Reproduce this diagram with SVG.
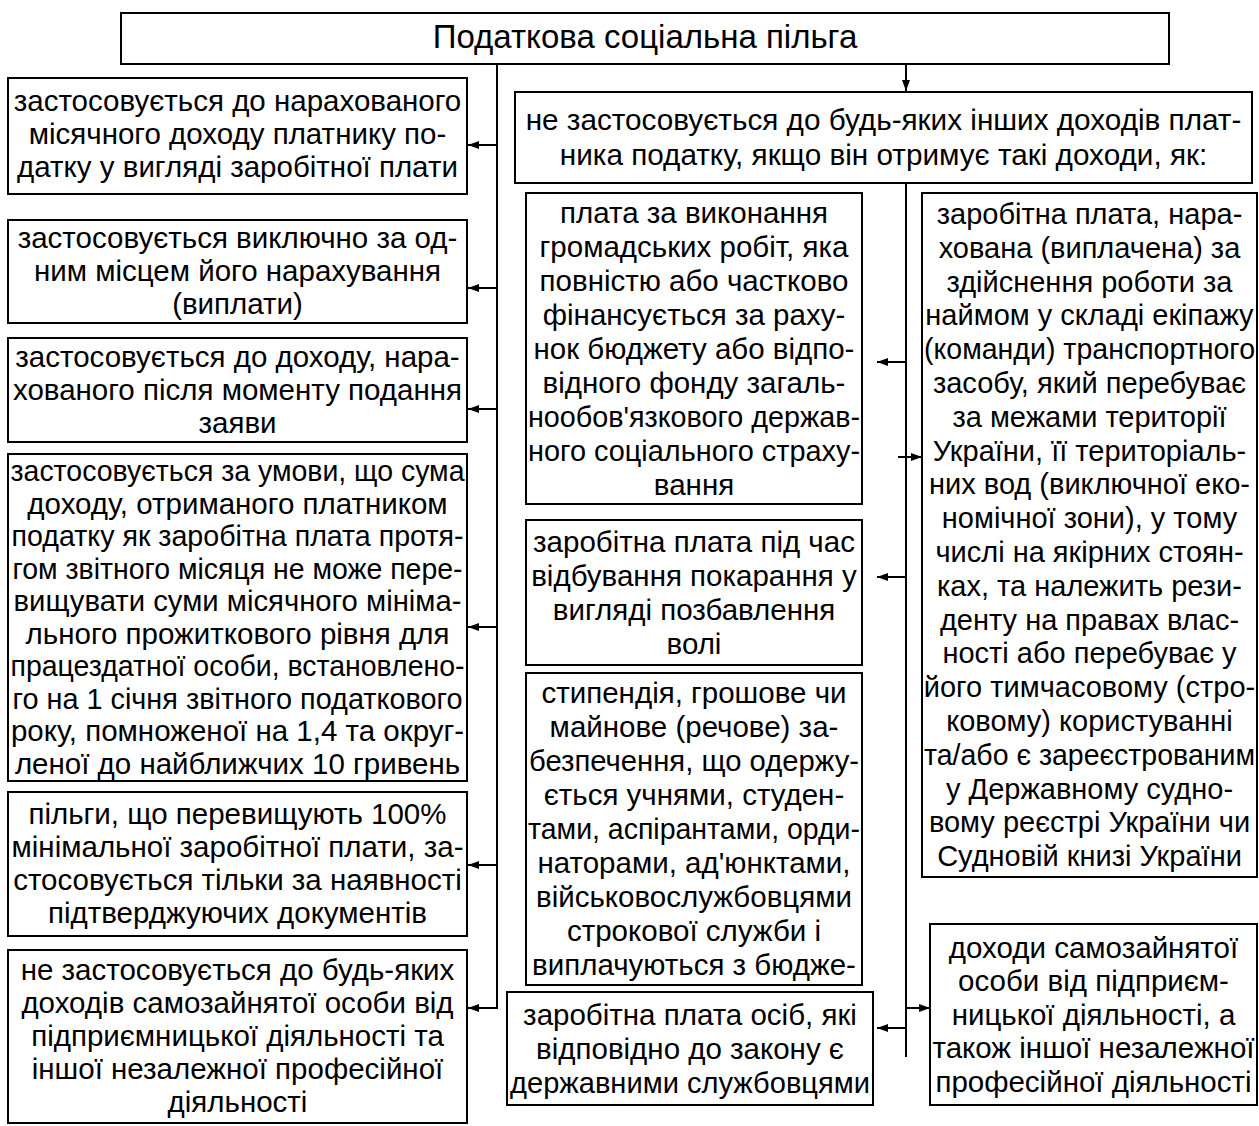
<svg xmlns="http://www.w3.org/2000/svg" width="1259" height="1126" viewBox="0 0 1259 1126">
<style>
.box{fill:#fff;stroke:#000;stroke-width:2}
.t{font-family:"Liberation Sans",Arial,sans-serif;font-size:29.5px;text-anchor:middle;fill:#000}
.s{font-size:29px}
.title{font-size:33px}
.c{stroke:#000;stroke-width:2;fill:none}
</style>
<defs>
<marker id="ah" markerUnits="userSpaceOnUse" markerWidth="12" markerHeight="8" refX="11" refY="4" orient="auto">
<path d="M0,0 L11,4 L0,8 z" fill="#000"/>
</marker>
</defs>
<rect width="1259" height="1126" fill="#fff"/>
<g id="connectors">
<line class="c" x1="497" y1="64" x2="497" y2="1008"/>
<line class="c" x1="497" y1="145" x2="468" y2="145" marker-end="url(#ah)"/>
<line class="c" x1="497" y1="288" x2="468" y2="288" marker-end="url(#ah)"/>
<line class="c" x1="497" y1="409" x2="468" y2="409" marker-end="url(#ah)"/>
<line class="c" x1="497" y1="627" x2="468" y2="627" marker-end="url(#ah)"/>
<line class="c" x1="497" y1="865" x2="468" y2="865" marker-end="url(#ah)"/>
<line class="c" x1="498" y1="1008" x2="468" y2="1008" marker-end="url(#ah)"/>
<line class="c" x1="906" y1="64" x2="906" y2="91" marker-end="url(#ah)"/>
<line class="c" x1="906" y1="183" x2="906" y2="1057"/>
<line class="c" x1="906" y1="362" x2="877" y2="362" marker-end="url(#ah)"/>
<line class="c" x1="906" y1="577" x2="877" y2="577" marker-end="url(#ah)"/>
<line class="c" x1="906" y1="1028" x2="877" y2="1028" marker-end="url(#ah)"/>
<line class="c" x1="898" y1="457" x2="922" y2="457" marker-end="url(#ah)"/>
<line class="c" x1="906" y1="1008" x2="930" y2="1008" marker-end="url(#ah)"/>
</g>
<g id="n-top">
<rect class="box" x="121" y="13" width="1048" height="51"/>
<text class="t title" x="645" y="48">Податкова соціальна пільга</text>
</g>
<g id="n-l1">
<rect class="box" x="8" y="78" width="459" height="116"/>
<text class="t" x="237.5" y="111">застосовується до нарахованого</text>
<text class="t" x="237.5" y="144">місячного доходу платнику по-</text>
<text class="t" x="237.5" y="177">датку у вигляді заробітної плати</text>
</g>
<g id="n-l2">
<rect class="box" x="8" y="220" width="459" height="103"/>
<text class="t" x="237.5" y="248">застосовується виключно за од-</text>
<text class="t" x="237.5" y="281">ним місцем його нарахування</text>
<text class="t" x="237.5" y="314">(виплати)</text>
</g>
<g id="n-l3">
<rect class="box" x="8" y="338" width="459" height="104"/>
<text class="t" x="237.5" y="367">застосовується до доходу, нара-</text>
<text class="t" x="237.5" y="400">хованого після моменту подання</text>
<text class="t" x="237.5" y="433">заяви</text>
</g>
<g id="n-l4">
<rect class="box" x="8" y="454" width="459" height="327"/>
<text class="t" x="237.5" y="481" textLength="454" lengthAdjust="spacingAndGlyphs">застосовується за умови, що сума</text>
<text class="t" x="237.5" y="513.5">доходу, отриманого платником</text>
<text class="t" x="237.5" y="546" textLength="452" lengthAdjust="spacingAndGlyphs">податку як заробітна плата протя-</text>
<text class="t" x="237.5" y="578.5" textLength="450" lengthAdjust="spacingAndGlyphs">гом звітного місяця не може пере-</text>
<text class="t" x="237.5" y="611" textLength="448" lengthAdjust="spacingAndGlyphs">вищувати суми місячного мініма-</text>
<text class="t" x="237.5" y="643.5">льного прожиткового рівня для</text>
<text class="t" x="237.5" y="676" textLength="454" lengthAdjust="spacingAndGlyphs">працездатної особи, встановлено-</text>
<text class="t" x="237.5" y="708.5" textLength="450" lengthAdjust="spacingAndGlyphs">го на 1 січня звітного податкового</text>
<text class="t" x="237.5" y="741">року, помноженої на 1,4 та округ-</text>
<text class="t" x="237.5" y="773.5">леної до найближчих 10 гривень</text>
</g>
<g id="n-l5">
<rect class="box" x="8" y="792" width="459" height="144"/>
<text class="t" x="237.5" y="824">пільги, що перевищують 100%</text>
<text class="t" x="237.5" y="857">мінімальної заробітної плати, за-</text>
<text class="t" x="237.5" y="890">стосовується тільки за наявності</text>
<text class="t" x="237.5" y="923">підтверджуючих документів</text>
</g>
<g id="n-l6">
<rect class="box" x="8" y="950" width="459" height="173"/>
<text class="t" x="237.5" y="980">не застосовується до будь-яких</text>
<text class="t" x="237.5" y="1013">доходів самозайнятої особи від</text>
<text class="t" x="237.5" y="1046">підприємницької діяльності та</text>
<text class="t" x="237.5" y="1079">іншої незалежної професійної</text>
<text class="t" x="237.5" y="1112">діяльності</text>
</g>
<g id="n-r0">
<rect class="box" x="515" y="92" width="737" height="91"/>
<text class="t" x="883.5" y="130" style="font-size:29.7px">не застосовується до будь-яких інших доходів плат-</text>
<text class="t" x="883.5" y="165" style="font-size:29.7px">ника податку, якщо він отримує такі доходи, як:</text>
</g>
<g id="n-ma">
<rect class="box" x="526" y="193" width="336" height="311"/>
<text class="t" x="694" y="222.5">плата за виконання</text>
<text class="t" x="694" y="256.5">громадських робіт, яка</text>
<text class="t" x="694" y="290.5">повністю або частково</text>
<text class="t" x="694" y="324.5">фінансується за раху-</text>
<text class="t" x="694" y="358.5">нок бюджету або відпо-</text>
<text class="t" x="694" y="392.5">відного фонду загаль-</text>
<text class="t" x="694" y="426.5" textLength="332" lengthAdjust="spacingAndGlyphs">нообов'язкового держав-</text>
<text class="t" x="694" y="460.5" textLength="332" lengthAdjust="spacingAndGlyphs">ного соціального страху-</text>
<text class="t" x="694" y="494.5">вання</text>
</g>
<g id="n-mb">
<rect class="box" x="526" y="520" width="336" height="145"/>
<text class="t" x="694" y="551.5">заробітна плата під час</text>
<text class="t" x="694" y="585.5">відбування покарання у</text>
<text class="t" x="694" y="619.5">вигляді позбавлення</text>
<text class="t" x="694" y="653.5">волі</text>
</g>
<g id="n-mc">
<rect class="box" x="526" y="673" width="336" height="312"/>
<text class="t" x="694" y="703">стипендія, грошове чи</text>
<text class="t" x="694" y="737">майнове (речове) за-</text>
<text class="t" x="694" y="771" textLength="330" lengthAdjust="spacingAndGlyphs">безпечення, що одержу-</text>
<text class="t" x="694" y="805">ється учнями, студен-</text>
<text class="t" x="694" y="839" textLength="332" lengthAdjust="spacingAndGlyphs">тами, аспірантами, орди-</text>
<text class="t" x="694" y="873">наторами, ад'юнктами,</text>
<text class="t" x="694" y="907">військовослужбовцями</text>
<text class="t" x="694" y="941">строкової служби і</text>
<text class="t" x="694" y="975">виплачуються з бюдже-</text>
</g>
<g id="n-md">
<rect class="box" x="507" y="992" width="366" height="113"/>
<text class="t" x="690" y="1024.5">заробітна плата осіб, які</text>
<text class="t" x="690" y="1058.5">відповідно до закону є</text>
<text class="t" x="690" y="1092.5" textLength="360" lengthAdjust="spacingAndGlyphs">державними службовцями</text>
</g>
<g id="n-re">
<rect class="box" x="922" y="193" width="335" height="684"/>
<text class="t s" x="1089.5" y="223.9">заробітна плата, нара-</text>
<text class="t s" x="1089.5" y="257.7">хована (виплачена) за</text>
<text class="t s" x="1089.5" y="291.5">здійснення роботи за</text>
<text class="t s" x="1089.5" y="325.3">наймом у складі екіпажу</text>
<text class="t s" x="1089.5" y="359.1" textLength="331" lengthAdjust="spacingAndGlyphs">(команди) транспортного</text>
<text class="t s" x="1089.5" y="392.9">засобу, який перебуває</text>
<text class="t s" x="1089.5" y="426.7">за межами території</text>
<text class="t s" x="1089.5" y="460.5">України, її територіаль-</text>
<text class="t s" x="1089.5" y="494.3">них вод (виключної еко-</text>
<text class="t s" x="1089.5" y="528.1">номічної зони), у тому</text>
<text class="t s" x="1089.5" y="561.9">числі на якірних стоян-</text>
<text class="t s" x="1089.5" y="595.7">ках, та належить рези-</text>
<text class="t s" x="1089.5" y="629.5">денту на правах влас-</text>
<text class="t s" x="1089.5" y="663.3">ності або перебуває у</text>
<text class="t s" x="1089.5" y="697.1">його тимчасовому (стро-</text>
<text class="t s" x="1089.5" y="730.9">ковому) користуванні</text>
<text class="t s" x="1089.5" y="764.7" textLength="331" lengthAdjust="spacingAndGlyphs">та/або є зареєстрованим</text>
<text class="t s" x="1089.5" y="798.5">у Державному судно-</text>
<text class="t s" x="1089.5" y="832.3">вому реєстрі України чи</text>
<text class="t s" x="1089.5" y="866.1">Судновій книзі України</text>
</g>
<g id="n-rf">
<rect class="box" x="930" y="924" width="327" height="181"/>
<text class="t" x="1093.5" y="957.5">доходи самозайнятої</text>
<text class="t" x="1093.5" y="991">особи від підприєм-</text>
<text class="t" x="1093.5" y="1024.5">ницької діяльності, а</text>
<text class="t" x="1093.5" y="1058">також іншої незалежної</text>
<text class="t" x="1093.5" y="1091.5">професійної діяльності</text>
</g>
</svg>
